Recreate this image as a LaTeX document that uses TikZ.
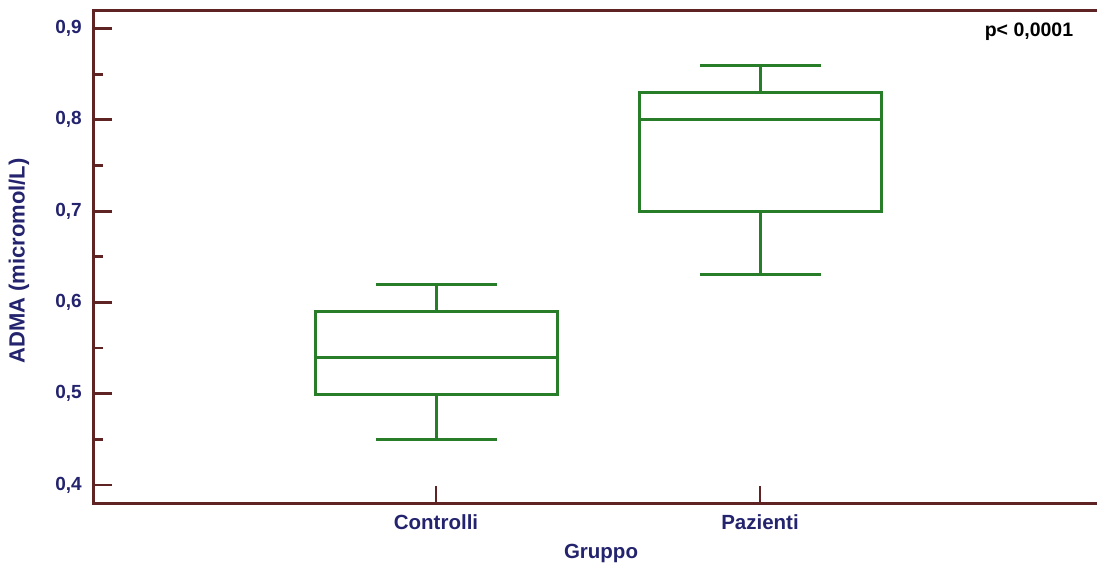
\documentclass[tikz,border=0pt]{standalone}
\usepackage{fontspec}
\setmainfont{Liberation Sans}
\definecolor{axiscol}{RGB}{95,35,35}
\definecolor{labcol}{RGB}{35,35,110}
\definecolor{boxcol}{RGB}{40,125,40}
\tikzset{
  axisline/.style={draw=axiscol, line width=3pt},
  tickline/.style={draw=axiscol, line width=2.8pt},
  boxline/.style={draw=boxcol, line width=3pt},
  ticklab/.style={text=labcol, font=\fontsize{19}{22}\selectfont\bfseries, anchor=east, inner sep=0pt},
  catlab/.style={text=labcol, font=\fontsize{20.5}{24}\selectfont\bfseries, inner sep=0pt},
}
\begin{document}
\begin{tikzpicture}[x=1pt,y=-1pt]
\useasboundingbox (0,0) rectangle (1097,568);
% axes
\coordinate (tl) at (93,10);
\coordinate (bl) at (93,503);
\coordinate (br) at (1097,503);
\coordinate (tr) at (1097,10);
\draw[axisline] (tr) -- (tl) -- (bl) -- (br);
% y ticks: value v -> y = 485 - (v-0.4)*913
\foreach \v/\lab [count=\i] in {0.4/{0,4},0.5/{0,5},0.6/{0,6},0.7/{0,7},0.8/{0,8},0.9/{0,9}}{
  \pgfmathsetmacro{\yy}{485-(\v-0.4)*913}
  \coordinate (yt\i) at (93,\yy);
  \coordinate (ye\i) at (112,\yy);
  \draw[tickline] (yt\i) -- (ye\i);
  \node[ticklab] (yl\i) at (82,\yy) {\lab};
}
\foreach \v [count=\i] in {0.45,0.55,0.65,0.75,0.85}{
  \pgfmathsetmacro{\yy}{485-(\v-0.4)*913}
  \coordinate (mt\i) at (93,\yy);
  \coordinate (me\i) at (103,\yy);
  \draw[tickline] (mt\i) -- (me\i);
}
% x ticks
\coordinate (xc0) at (436,503); \coordinate (xc1) at (436,486);
\coordinate (xp0) at (760,503); \coordinate (xp1) at (760,486);
\draw[tickline] (xc0) -- (xc1);
\draw[tickline] (xp0) -- (xp1);
\node[catlab] (lc) at (436,522) {Controlli};
\node[catlab] (lp) at (760,522) {Pazienti};
\node[catlab] (lg) at (601,553) {Gruppo};
\node[catlab, rotate=90, font=\fontsize{22}{26}\selectfont\bfseries] (ly) at (19,261) {ADMA (micromol/L)};
\node[text=black, font=\fontsize{19.5}{23}\selectfont\bfseries, inner sep=0pt] (pv) at (1029,32) {p< 0,0001};
% box Controlli
\draw[boxline] (315,311.5) rectangle (557,394);
\draw[boxline] (315,357) -- (557,357);
\draw[boxline] (436,311.5) -- (436,284.1);
\draw[boxline] (376,284.1) -- (497,284.1);
\draw[boxline] (436,394) -- (436,439.4);
\draw[boxline] (376,439.4) -- (497,439.4);
% box Pazienti
\draw[boxline] (639,92.4) rectangle (881,211.1);
\draw[boxline] (639,119.8) -- (881,119.8);
\draw[boxline] (760,92.4) -- (760,65);
\draw[boxline] (700,65) -- (821,65);
\draw[boxline] (760,211.1) -- (760,274.9);
\draw[boxline] (700,274.9) -- (821,274.9);
\end{tikzpicture}
\end{document}
